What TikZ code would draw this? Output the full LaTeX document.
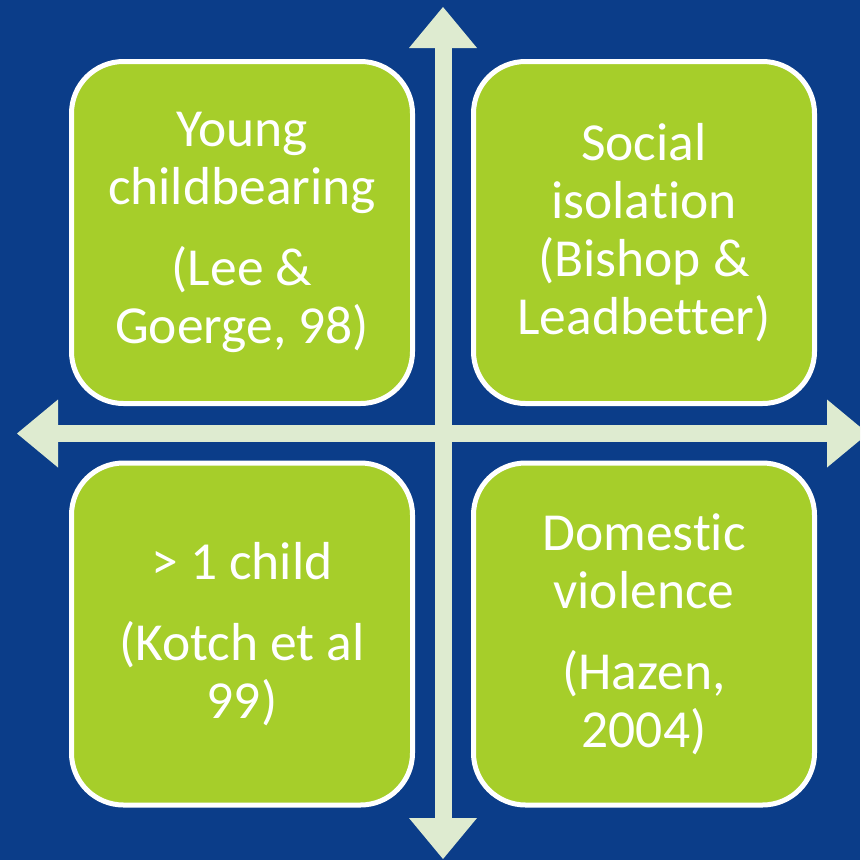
\documentclass[tikz,border=0pt]{standalone}
\usepackage{fontspec}
\setmainfont{Carlito}[Ligatures={NoCommon}]
\usetikzlibrary{arrows.meta}
\definecolor{bgblue}{RGB}{11,61,137}
\definecolor{boxgreen}{RGB}{166,206,42}
\definecolor{axisgreen}{RGB}{222,235,208}

\begin{document}
\begin{tikzpicture}[x=1pt,y=-1pt,
  quad/.style={rectangle, rounded corners=52pt, draw=white, line width=5pt, fill=boxgreen,
    minimum width=341pt, minimum height=342pt, inner sep=0pt, text=white, align=center,
    font=\fontsize{53.5}{58}\selectfont},
  axis/.style={line width=17pt, draw=axisgreen,
    {Triangle[width=68pt,length=41pt,line width=0pt]}-{Triangle[width=68pt,length=41pt,line width=0pt]}}]
%set diagram 860 x 860
\useasboundingbox (0,0) rectangle (860,860);
\clip (0,0) rectangle (860,860);
%Shape: background
\fill [bgblue] (0,0) rectangle (860,860);

% Axes
\coordinate (west) at (17,433.5);
\coordinate (east) at (868,433.5);
\coordinate (north) at (443,7);
\coordinate (south) at (443,859);
\draw [axis] (west) -- (east);
\draw [axis] (north) -- (south);

% Quadrants
\node [quad] (young) at (242,232.5) {Young\\childbearing\\[23pt](Lee \&\\Goerge, 98)};
\node [quad] (isolation) at (644,232.5) {Social\\isolation\\(Bishop \&\\Leadbetter)};
\node [quad] (child) at (242,634) {> 1 child\\[23pt](Kotch et al\\99)};
\node [quad] (violence) at (644,634) {Domestic\\violence\\[23pt](Hazen,\\2004)};

\end{tikzpicture}
\end{document}
